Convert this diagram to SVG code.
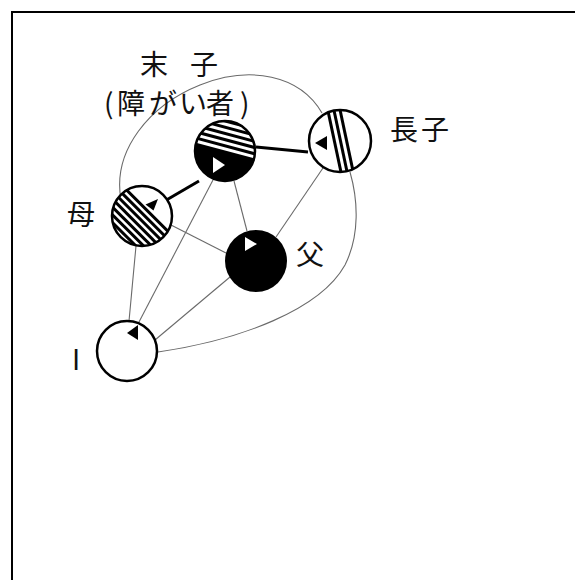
<svg xmlns="http://www.w3.org/2000/svg" width="575" height="580" viewBox="0 0 575 580">
<style>
.ring{fill:none;stroke:#000;stroke-width:2.5}
.thin{fill:none;stroke:#6a6a6a;stroke-width:1.1}
.thick{fill:none;stroke:#000;stroke-width:3}
.lbl{font-family:"Noto Sans CJK JP","Noto Sans",sans-serif;font-size:28px;fill:#111}
</style>
<defs>
<clipPath id="cSue"><circle cx="225" cy="151" r="30"/></clipPath>
<clipPath id="cCho"><circle cx="340" cy="141" r="31"/></clipPath>
<clipPath id="cHaha"><circle cx="142" cy="216" r="30"/></clipPath>
</defs>
<rect width="575" height="580" fill="#fff"/>
<path d="M12,580 V12 H575" fill="none" stroke="#000" stroke-width="2"/>

<g id="connectors">
<line class="thick" x1="163" y1="202" x2="199" y2="181"/>
<line class="thick" x1="256" y1="147" x2="308" y2="152"/>
<line class="thin" x1="171" y1="225" x2="226" y2="253"/>
<line class="thin" x1="234" y1="181" x2="247" y2="231"/>
<line class="thin" x1="323" y1="168" x2="276" y2="237"/>
<line class="thin" x1="129" y1="321" x2="136" y2="246"/>
<line class="thin" x1="139" y1="322" x2="213" y2="180"/>
<line class="thin" x1="155" y1="340" x2="230" y2="277"/>
<path class="thin" d="M158,352 C240,340 320,310 345,265 C360,235 358,200 350,172"/>
<path class="thin" d="M121,200 C112,150 150,105 200,85 C250,65 300,75 322,113"/>
</g>

<g id="node-sue">
<circle cx="225" cy="151" r="30" fill="#fff"/>
<g clip-path="url(#cSue)">
<g transform="rotate(15 225 151)">
<rect x="185" y="120.5" width="80" height="3"/>
<rect x="185" y="126.5" width="80" height="3"/>
<rect x="185" y="132.5" width="80" height="3"/>
<rect x="185" y="138.5" width="80" height="3"/>
<rect x="185" y="144.5" width="80" height="3"/>
<rect x="185" y="150.5" width="80" height="40"/>
</g>
</g>
<circle class="ring" cx="225" cy="151" r="30"/>
<polygon points="213,157 213,173 225,165" fill="#fff"/>
</g>

<g id="node-chonan">
<circle cx="340" cy="141" r="31" fill="#fff"/>
<g clip-path="url(#cCho)">
<g transform="rotate(-12 340 141)">
<rect x="333" y="100" width="3" height="82"/>
<rect x="339" y="100" width="3" height="82"/>
<rect x="345" y="100" width="3" height="82"/>
</g>
</g>
<circle class="ring" cx="340" cy="141" r="31"/>
<polygon points="315,143 327,136 327,150"/>
</g>

<g id="node-haha">
<circle cx="142" cy="216" r="30" fill="#fff"/>
<g clip-path="url(#cHaha)">
<g transform="rotate(45 142 216)">
<rect x="105" y="207" width="75" height="3"/>
<rect x="105" y="212.5" width="75" height="3"/>
<rect x="105" y="218" width="75" height="3"/>
<rect x="105" y="223.5" width="75" height="3"/>
<rect x="105" y="229" width="75" height="3"/>
<rect x="105" y="234.5" width="75" height="3"/>
<rect x="105" y="240" width="75" height="3"/>
</g>
</g>
<circle class="ring" cx="142" cy="216" r="30"/>
<polygon points="145.5,204.5 158,199 153.5,210.5"/>
</g>

<g id="node-chichi">
<circle cx="256" cy="261" r="31" fill="#000"/>
<polygon points="245,237 245,251 257,244" fill="#fff"/>
</g>

<g id="node-i">
<circle class="ring" cx="127" cy="351" r="30" fill="#fff"/>
<polygon points="127,333 138,325 138,340"/>
</g>

<g id="labels">
<text class="lbl" x="140 160 190" y="75">末 子</text>
<text class="lbl" x="104 117 149 179 206 240" y="114">(障がい者)</text>
<text class="lbl" x="390 421" y="140">長子</text>
<text class="lbl" x="67" y="225">母</text>
<text class="lbl" x="296" y="265">父</text>
<text class="lbl" x="72" y="370">I</text>
</g>
</svg>
